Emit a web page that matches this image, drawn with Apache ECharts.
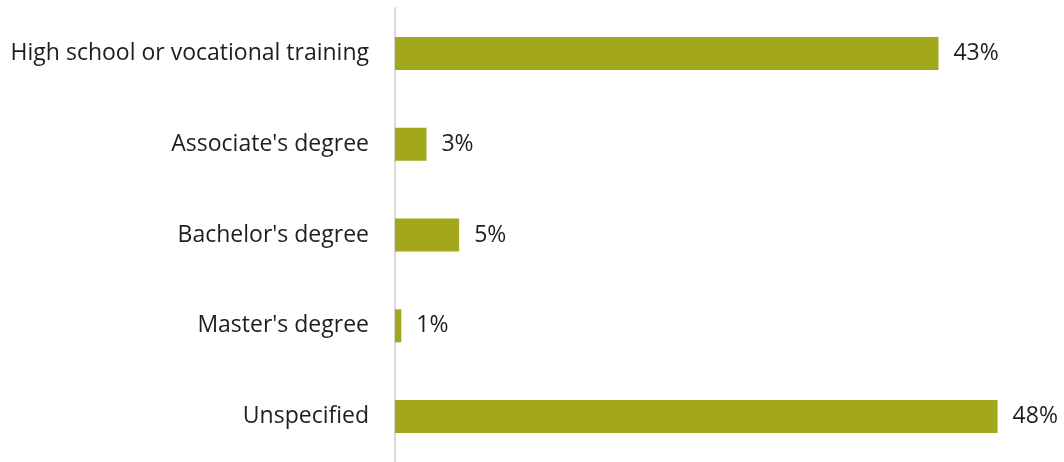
<!DOCTYPE html>
<html>
<head>
<meta charset="utf-8">
<script src="https://cdn.jsdelivr.net/npm/echarts@6/dist/echarts.min.js"></script>
<style>
	html,body{margin:0;padding:0;background:#fff;}
	#chart{width:1064px;height:462px;}
</style>
</head>
<body>
<div id="chart"></div>
<script>
var categories = ["High school or vocational training","Associate's degree","Bachelor's degree","Master's degree","Unspecified"];
var shares = [43.2, 2.5, 5.1, 0.5, 47.9];

var barColor = "#A2A71C";
var textColor = "#1e1e1e";
var fontName = "'Open Sans', 'Noto Sans', sans-serif";

var myChart = echarts.init(document.getElementById("chart"));
var option = {
	animation: false,
	grid: {
		left: 395,
		right: 40,
		top: 8,
		bottom: 0,
		containLabel: false
	},
	xAxis: {
		type: 'value',
		min: 0,
		max: 50,
		show: false
	},
	yAxis: {
		type: 'category',
		inverse: true,
		data: categories,
		axisLine: {
			show: true,
			lineStyle: {color: "#D9D9D9", width: 2}
		},
		axisTick: {show: false},
		axisLabel: {
			margin: 26,
			color: textColor,
			fontSize: 23,
			fontFamily: fontName,
			padding: [5, 0, 0, 0]
		}
	},
	series: [
		{
			type: 'bar',
			data: shares,
			barWidth: 33,
			itemStyle: {color: barColor},
			label: {
				show: true,
				position: 'right',
				distance: 15,
				color: textColor,
				fontSize: 23,
				fontFamily: fontName,
				padding: [5, 0, 0, 0],
				formatter: function(p){
					return Math.round(p.value) + "%";
				}
			}
		}
	]
};
myChart.setOption(option);
</script>
</body>
</html>
